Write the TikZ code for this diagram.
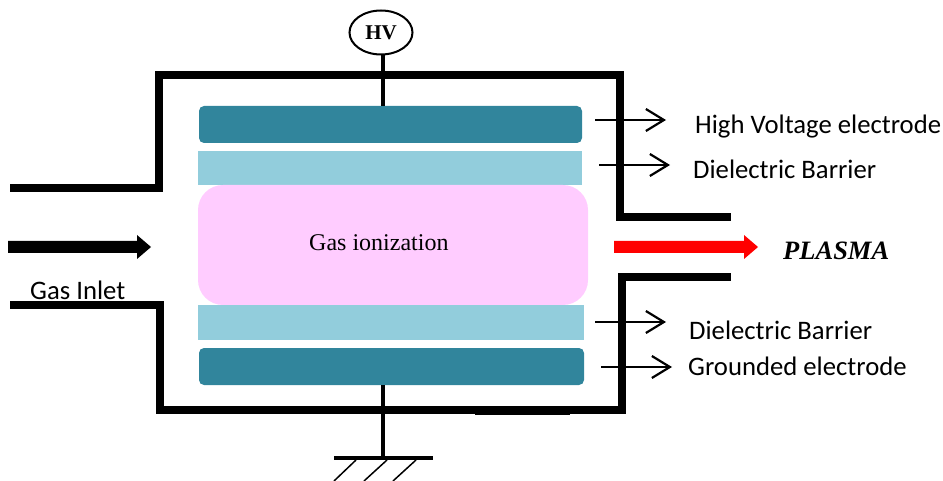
\documentclass[tikz,border=0pt]{standalone}
\usepackage{fontspec}
\setmainfont{Carlito}
\newfontfamily\serifface{Liberation Serif}
\usetikzlibrary{arrows.meta,calc,shapes.geometric}
\definecolor{tealel}{HTML}{31859C}
\definecolor{lightdi}{HTML}{92CDDC}
\definecolor{pinkgas}{HTML}{FFCCFF}
\tikzset{
  wall/.style={draw=black,line width=8pt,line join=miter},
  electrode/.style={fill=tealel,draw=none,rounded corners=5pt},
  barrier/.style={fill=lightdi,draw=none},
  wire/.style={draw=black,line width=4pt},
  pointer/.style={draw=black,line width=2.2pt,-{Straight Barb[length=18pt,width=22pt,line width=2.2pt]}},
  label/.style={anchor=base west,inner sep=0pt,font=\fontsize{26.7}{30}\selectfont},
}
\begin{document}
\begin{tikzpicture}[x=1pt,y=-1pt]
\useasboundingbox (0,0) rectangle (943,481);
% chamber walls
\draw[wall] (10,188) -- (159,188) -- (159,75) -- (620,75) -- (620,217) -- (731,217);
\draw[wall] (10,305) -- (160,305) -- (160,410) -- (622,410) -- (622,277) -- (731,277);
\draw[draw=black,line width=9pt] (475,410) -- (570,410);
% plates
\path[electrode] (199,106) rectangle (582,143); \coordinate (hvel) at (383,106);
\path[barrier] (198,151) rectangle (582,185);
\node[fill=pinkgas,draw=none,rounded corners=25pt,minimum width=390pt,minimum height=120pt,inner sep=0pt] (gas) at (393,245) {};
\path[barrier] (198,305) rectangle (584,340);
\path[electrode] (199,348) rectangle (584,385); \coordinate (gndel) at (383,385);
\node[inner sep=0pt,anchor=base west,font=\serifface\fontsize{24}{28}\selectfont] (gastext) at (309,251) {Gas ionization};
% HV
\node[draw=black,line width=2pt,ellipse,minimum width=63pt,minimum height=44pt,inner sep=0pt,font=\serifface\bfseries\fontsize{21}{24}\selectfont] (hv) at (381,32.5) {HV};
\coordinate (hvb) at (383,54);
\draw[wire] (hvb) -- (hvel);
% ground
\coordinate (gbl) at (334,458); \coordinate (gbr) at (433,458); \coordinate (gbm) at (383,458);
\draw[wire] (gndel) -- (gbm);
\draw[draw=black,line width=4pt] (gbl) -- (gbr);
\foreach \a/\b in {356/334,387/364,416/393}
  \draw[draw=black,line width=1.5pt] (\a,460) -- (\b,481);
% block arrows
\fill[black] (8,241) -- (137,241) -- (137,235) -- (151,247) -- (137,259) -- (137,253) -- (8,253) -- cycle;
\fill[red] (614,241) -- (744,241) -- (744,235) -- (758,247) -- (744,259) -- (744,253) -- (614,253) -- cycle;
\node[label] (inlet) at (30,300) {Gas Inlet};
\node[inner sep=0pt,anchor=base west,font=\serifface\bfseries\itshape\fontsize{26.5}{30}\selectfont] (plasma) at (783,260) {PLASMA};
% labels and pointers
\node[label] (l1) at (695,134) {High Voltage electrode};
\node[label] (l2) at (693,179) {Dielectric Barrier};
\node[label] (l3) at (689,339) {Dielectric Barrier};
\node[label] (l4) at (688,375) {Grounded electrode};
\coordinate (p1a) at (595,120); \coordinate (p1b) at (666,120);
\coordinate (p2a) at (599,165); \coordinate (p2b) at (670,165);
\coordinate (p3a) at (595,322); \coordinate (p3b) at (666,322);
\coordinate (p4a) at (601,367); \coordinate (p4b) at (672,367);
\draw[pointer] (p1a) -- (p1b);
\draw[pointer] (p2a) -- (p2b);
\draw[pointer] (p3a) -- (p3b);
\draw[pointer] (p4a) -- (p4b);
\end{tikzpicture}
\end{document}
